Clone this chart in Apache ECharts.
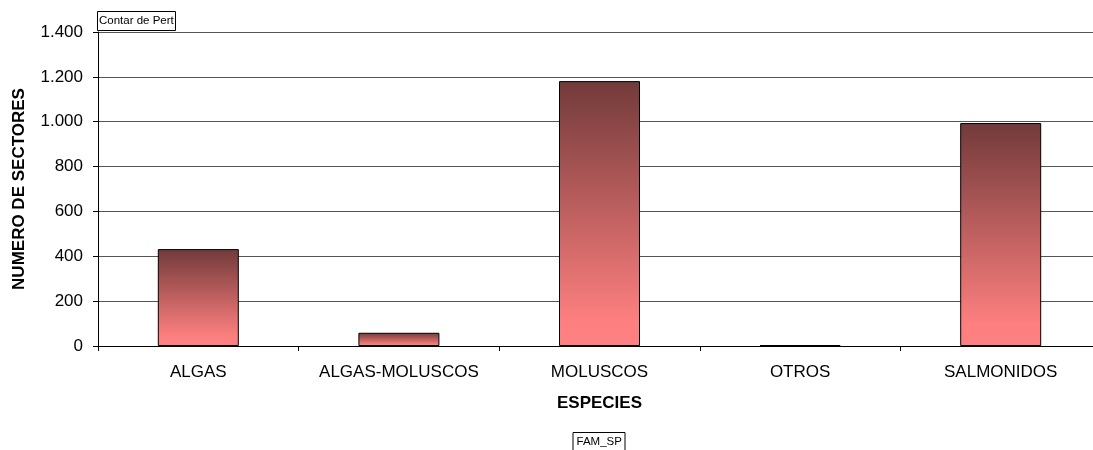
<!DOCTYPE html>
<html>
<head>
<meta charset="utf-8">
<script src="https://cdn.jsdelivr.net/npm/echarts@6/dist/echarts.min.js"></script>
<style>html,body{margin:0;padding:0;background:#fff;}#c{width:1093px;height:450px;}</style>
</head>
<body>
<div id="c"></div>
<script>
var categories = ['ALGAS', 'ALGAS-MOLUSCOS', 'MOLUSCOS', 'OTROS', 'SALMONIDOS'];
var values = [432, 59, 1181, 4, 994];
var yAxisName = 'NUMERO DE SECTORES';
var xAxisName = 'ESPECIES';
var dataLabel = 'Contar de Pert';
var fieldLabel = 'FAM_SP';

var chart = echarts.init(document.getElementById('c'));
var font = 'Liberation Sans, Arial, sans-serif';
chart.setOption({
  animation: false,
  backgroundColor: '#fff',
  title: [
    {text: dataLabel, left: 97, top: 11, padding: [3, 2, 3, 2], borderColor: '#000', borderWidth: 1,
     textStyle: {fontFamily: font, fontSize: 11.5, fontWeight: 'normal', color: '#000', lineHeight: 14}},
    {text: fieldLabel, left: 573, top: 432, padding: [3, 3.5, 3, 3.5], borderColor: '#000', borderWidth: 1,
     textStyle: {fontFamily: font, fontSize: 11.5, fontWeight: 'normal', color: '#000', lineHeight: 14}}
  ],
  grid: {left: 98, width: 1003, top: 32, height: 314, containLabel: false, outerBoundsMode: 'none'},
  xAxis: {
    type: 'category',
    data: categories,
    name: xAxisName,
    nameLocation: 'middle',
    nameGap: 49,
    nameTextStyle: {fontFamily: font, fontSize: 17, fontWeight: 'bold', color: '#000'},
    axisLine: {lineStyle: {color: '#000', width: 1}},
    axisTick: {show: true, interval: 0, length: 5, lineStyle: {color: '#000'}},
    axisLabel: {interval: 0, hideOverlap: false, fontFamily: font, fontSize: 17, color: '#000', margin: 18}
  },
  yAxis: {
    type: 'value',
    min: 0, max: 1400, interval: 200,
    name: yAxisName,
    nameLocation: 'middle',
    nameGap: 70,
    nameTextStyle: {fontFamily: font, fontSize: 17, fontWeight: 'bold', color: '#000'},
    axisLine: {show: true, lineStyle: {color: '#000', width: 1}},
    axisTick: {show: true, length: 5, lineStyle: {color: '#000'}},
    axisLabel: {fontFamily: font, fontSize: 17, color: '#000', margin: 15,
      formatter: function (v) { return String(v).replace(/\B(?=(\d{3})+(?!\d))/g, '.'); }},
    splitLine: {lineStyle: {color: '#555', width: 1}}
  },
  series: [{
    type: 'bar',
    data: values,
    barWidth: 81,
    itemStyle: {
      borderColor: '#000',
      borderWidth: 1,
      color: new echarts.graphic.LinearGradient(0, 0, 0, 1, [
        {offset: 0, color: '#723a3a'},
        {offset: 0.9, color: '#fd7f7f'},
        {offset: 1, color: '#ff8080'}
      ])
    }
  }]
});
</script>
</body>
</html>
